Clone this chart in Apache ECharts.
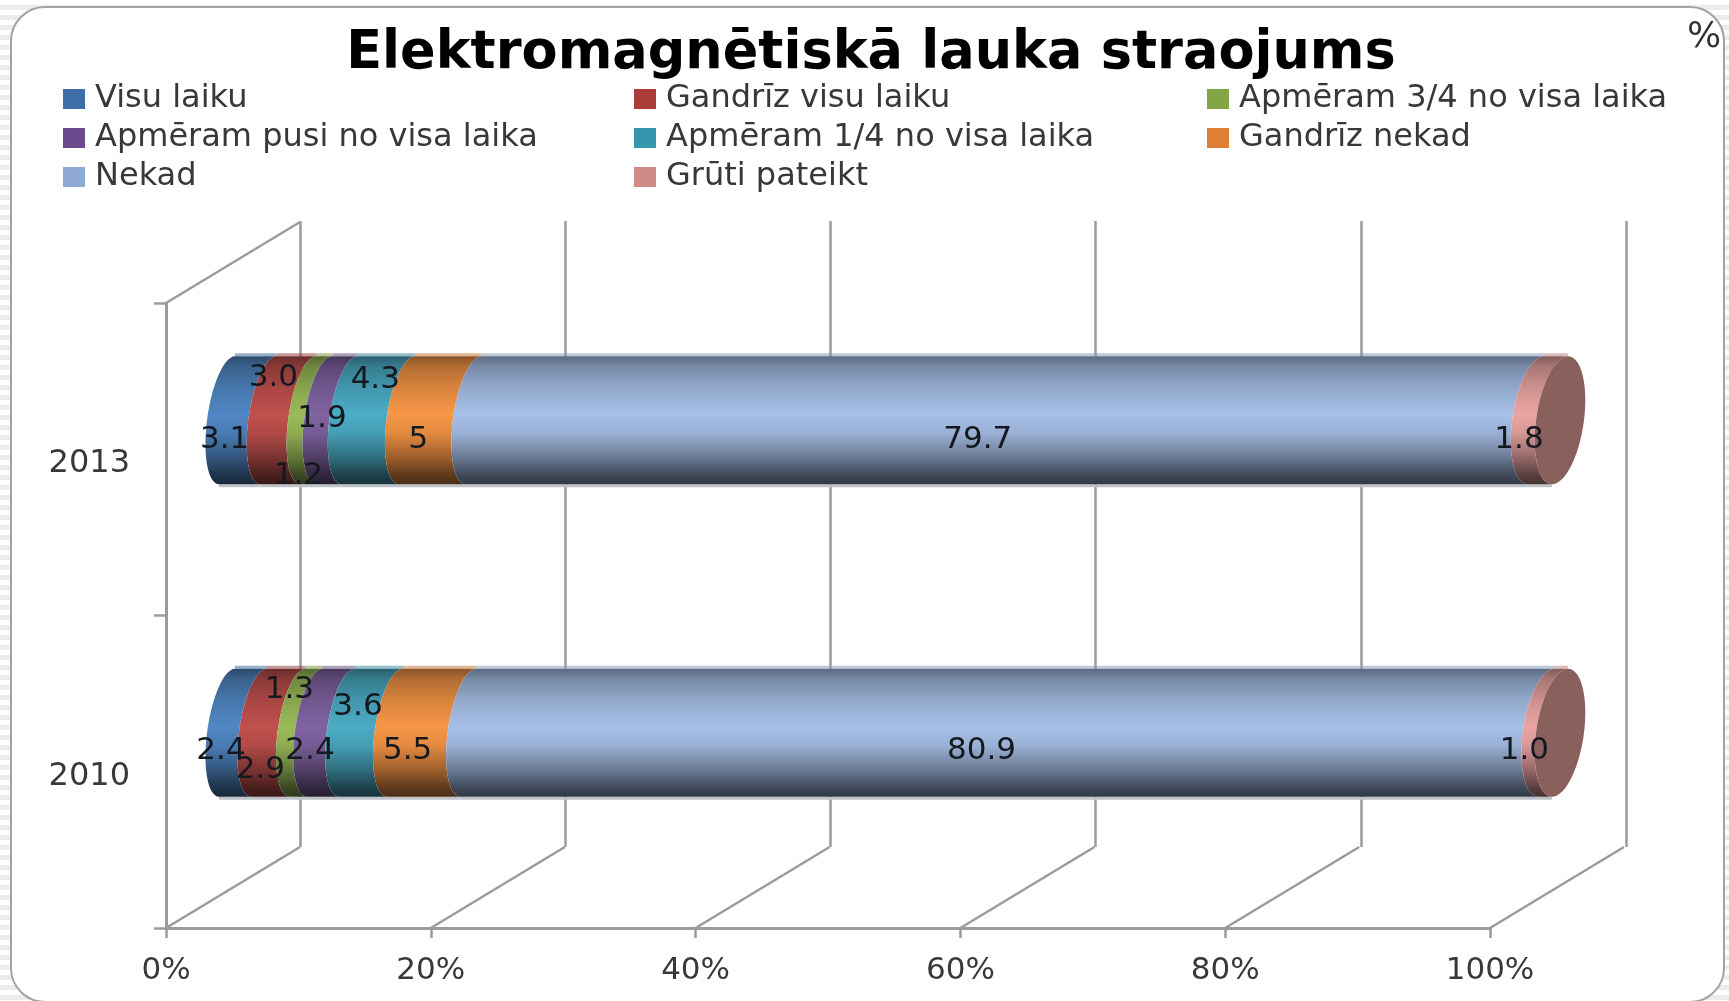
<!DOCTYPE html>
<html>
<head>
<meta charset="utf-8">
<title>Elektromagnētiskā lauka straojums</title>
<script src="https://cdn.jsdelivr.net/npm/echarts@6/dist/echarts.min.js"></script>
<style>
  html, body { margin: 0; padding: 0; width: 100%; height: 100%; overflow: hidden; }
  body { background: repeating-linear-gradient(#fff 0 5px, #ececec 5px 10px); }
  #chart { width: 1729px; height: 1001px; }
</style>
</head>
<body>
<div id="chart"></div>
<script>
// data, bottom category first
const years = ['2010', '2013'];
const seriesNames = ['Visu laiku', 'Gandrīz visu laiku', 'Apmēram 3/4 no visa laika', 'Apmēram pusi no visa laika', 'Apmēram 1/4 no visa laika', 'Gandrīz nekad', 'Nekad', 'Grūti pateikt'];
const visuLaiku = [2.4, 3.1];
const gandrizVisu = [2.9, 3.0];
const triCeturtdalas = [1.3, 1.2];
const pusi = [2.4, 1.9];
const ceturtdala = [3.6, 4.3];
const gandrizNekad = [5.5, 5];
const nekad = [80.9, 79.7];
const grutiPateikt = [1.0, 1.8];
const seriesValues = [visuLaiku, gandrizVisu, triCeturtdalas, pusi, ceturtdala, gandrizNekad, nekad, grutiPateikt];
const labelTexts = [['2.4', '3.1'], ['2.9', '3.0'], ['1.3', '1.2'], ['2.4', '1.9'], ['3.6', '4.3'], ['5.5', '5'], ['80.9', '79.7'], ['1.0', '1.8']];
const xTicks = [0, 20, 40, 60, 80, 100];

// styling
const legendColors = ['#3e6da8', '#ab3c3a', '#84a544', '#6a4a8c', '#3696ae', '#df7f33', '#8fa9d5', '#d08b89'];
const barColors = ['#5087c4', '#c0504d', '#9bbb59', '#8064a2', '#4bacc6', '#f79646', '#a7c0e8', '#eaa5a3'];
const labelOffsets = [
  [[-22, 18], [-23, 20]], [[-18, 37], [-15, -42]], [[-17, -43], [-18, 56]], [[-21, 18], [-15, -1]],
  [[-13, -26], [-3, -40]], [[-24, 18], [-22, 20]], [[-26, 18], [-27, 20]], [[-29, 18], [-29, 20]]
];
const FONT = '"DejaVu Sans", sans-serif';
const LINE = '#9b9b9b';
const TEXT = '#383838';
const DEPTH_X = 134, DEPTH_Y = -81;
const BAR_H = 128, SHEAR = 8;

function shade(hex, f) {
  const n = parseInt(hex.slice(1), 16);
  const c = [n >> 16, (n >> 8) & 255, n & 255].map(v => Math.round(v * f));
  return `rgb(${c[0]},${c[1]},${c[2]})`;
}

function cylinderFill(hex) {
  const stops = [[0, .55], [.08, .72], [.25, .88], [.45, 1], [.6, .92], [.8, .62], [.93, .38], [1, .3]];
  return {
    type: 'linear', x: 0, y: 0, x2: 0, y2: 1,
    colorStops: stops.map(s => ({ offset: s[0], color: shade(hex, s[1]) }))
  };
}

// left half of a slightly tilted ellipse, top to bottom
function arcPoints(cx, cy, rx) {
  const pts = [];
  for (let a = -90; a <= 90; a += 6) {
    const t = a * Math.PI / 180;
    pts.push([cx - rx * Math.cos(t) - SHEAR * Math.sin(t), cy + BAR_H / 2 * Math.sin(t)]);
  }
  return pts;
}

function radiusAt(v) { return 20 + 4 * v / 100; }

function segmentItem(si, params, api) {
  const start = api.value(0), end = api.value(1), cat = api.value(2);
  const p0 = api.coord([start, cat]);
  const p1 = api.coord([end, cat]);
  const cy = p0[1];
  const left = arcPoints(p0[0], cy, radiusAt(start));
  const right = arcPoints(p1[0], cy, radiusAt(end)).reverse();
  const top = cy - BAR_H / 2, bottom = cy + BAR_H / 2;
  const children = [
    // pale rim above and below the cylinder
    { type: 'rect', shape: { x: p0[0] + SHEAR, y: top - 3, width: p1[0] - p0[0], height: 3 }, style: { fill: shade(barColors[si], .8), opacity: .55 } },
    { type: 'rect', shape: { x: p0[0] - SHEAR, y: bottom, width: p1[0] - p0[0], height: 3 }, style: { fill: '#bfc2c8' } },
    { type: 'polygon', shape: { points: left.concat(right) }, style: { fill: cylinderFill(barColors[si]) } }
  ];
  if (si === seriesNames.length - 1) {
    // end cap
    const cap = arcPoints(p1[0], cy, radiusAt(end)).concat(
      arcPoints(p1[0], cy, -radiusAt(end)).reverse());
    children.push({ type: 'polygon', shape: { points: cap }, style: { fill: '#8a605d' } });
  }
  const off = labelOffsets[si][cat];
  children.push({
    type: 'text', z2: 100,
    style: {
      text: labelTexts[si][cat], x: (p0[0] + p1[0]) / 2 + off[0], y: cy + off[1],
      fill: '#14181f', font: `31px ${FONT}`, align: 'center', verticalAlign: 'middle'
    }
  });
  return { type: 'group', children };
}

const segmentSeries = seriesNames.map((name, si) => ({
  name,
  type: 'custom',
  xAxisIndex: 2,
  yAxisIndex: 2,
  encode: { x: [0, 1], y: 2 },
  itemStyle: { color: legendColors[si] },
  renderItem: (params, api) => segmentItem(si, params, api),
  data: years.map((y, cat) => {
    let start = 0;
    for (let k = 0; k < si; k++) start += seriesValues[k][cat];
    return [start, start + seriesValues[si][cat], cat];
  })
}));

const depthLines = {
  type: 'custom',
  xAxisIndex: 1,
  yAxisIndex: 1,
  silent: true,
  encode: { x: 0 },
  renderItem: (params, api) => {
    const v = api.value(0);
    const x = api.coord([v, 0])[0];
    const box = params.coordSys;
    const lineStyle = { stroke: LINE, lineWidth: 2.5 };
    const yBottom = box.y + box.height;
    const children = [{ type: 'line', shape: { x1: x, y1: yBottom, x2: x + DEPTH_X, y2: yBottom + DEPTH_Y }, style: lineStyle }];
    if (v === 0) {
      children.push({ type: 'line', shape: { x1: x, y1: box.y, x2: x + DEPTH_X, y2: box.y + DEPTH_Y }, style: lineStyle });
    }
    return { type: 'group', children };
  },
  data: xTicks.map(v => [v])
};

const legendColumn = (names, left) => ({
  left, top: 83,
  padding: 0,
  orient: 'vertical',
  icon: 'rect',
  itemWidth: 22,
  itemHeight: 20,
  itemGap: 7,
  selectedMode: false,
  textStyle: { color: TEXT, fontFamily: FONT, fontSize: 32, padding: [0, 0, 0, 5] },
  data: names.map(name => ({ name, itemStyle: { color: legendColors[seriesNames.indexOf(name)] } }))
});

const chart = echarts.init(document.getElementById('chart'), null, { renderer: 'canvas' });
chart.setOption({
  animation: false,
  backgroundColor: 'transparent',
  graphic: [{
    type: 'rect', z: -10,
    shape: { x: 11, y: 7, width: 1713, height: 995, r: 34 },
    style: { fill: '#fff', stroke: '#a3a3a3', lineWidth: 2 }
  }],
  title: [
    { text: 'Elektromagnētiskā lauka straojums', left: 866, top: 23, textAlign: 'center', textStyle: { color: '#000', fontFamily: FONT, fontWeight: 'bold', fontSize: 52.5 } },
    { text: '%', left: 1682, top: 15, textStyle: { color: '#333', fontFamily: FONT, fontWeight: 'normal', fontSize: 36 } }
  ],
  legend: [
    legendColumn([seriesNames[0], seriesNames[3], seriesNames[6]], 63),
    legendColumn([seriesNames[1], seriesNames[4], seriesNames[7]], 634),
    legendColumn([seriesNames[2], seriesNames[5]], 1207)
  ],
  grid: [
    { left: 300, top: 221, width: 1326, height: 626 },   // back wall
    { left: 166, top: 303, width: 1324, height: 625 },   // front plane with the axes
    { left: 227, top: 264, width: 1333, height: 625 }    // mid depth, where the bars sit
  ],
  xAxis: [
    { gridIndex: 0, type: 'value', min: 0, max: 100, interval: 20, axisLine: { show: false }, axisTick: { show: false }, axisLabel: { show: false }, splitLine: { show: true, lineStyle: { color: LINE, width: 2.5 } } },
    {
      gridIndex: 1, type: 'value', min: 0, max: 100, interval: 20, splitLine: { show: false },
      axisLine: { show: true, onZero: false, lineStyle: { color: LINE, width: 3 } },
      axisTick: { show: true, length: 10, lineStyle: { color: LINE, width: 2.5 } },
      axisLabel: { color: TEXT, fontFamily: FONT, fontSize: 31, margin: 27, formatter: '{value}%' }
    },
    { gridIndex: 2, type: 'value', min: 0, max: 100, show: false }
  ],
  yAxis: [
    { gridIndex: 0, type: 'category', data: years, show: false },
    {
      gridIndex: 1, type: 'category', data: years,
      axisLine: { show: true, lineStyle: { color: LINE, width: 3 } },
      axisTick: { show: true, length: 12, lineStyle: { color: LINE, width: 2.5 } },
      axisLabel: {
        margin: 36,
        formatter: '{year|{value}}',
        rich: { year: { color: TEXT, fontFamily: FONT, fontSize: 32, padding: [9, 0, 0, 0] } }
      }
    },
    { gridIndex: 2, type: 'category', data: years, show: false }
  ],
  series: [depthLines].concat(segmentSeries)
});

window.addEventListener('resize', () => chart.resize());
</script>
</body>
</html>
